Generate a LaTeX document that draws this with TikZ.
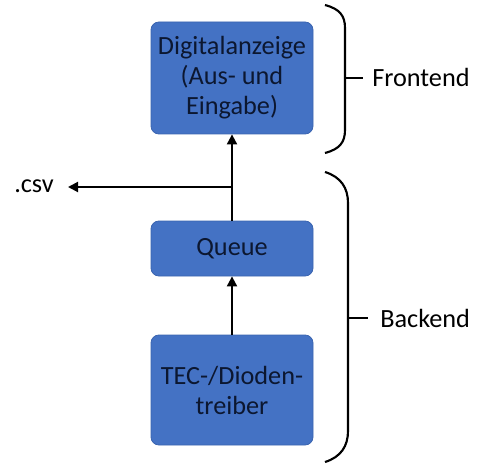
\documentclass[tikz,border=0pt]{standalone}
\usepackage{fontspec}
\setmainfont{Carlito}
\usetikzlibrary{arrows.meta}
\definecolor{boxfill}{HTML}{4472C4}
\definecolor{boxdraw}{HTML}{3A64B0}
\definecolor{boxtext}{HTML}{0C1730}
\begin{document}
\begin{tikzpicture}[x=0.75pt,y=-0.75pt,
  blockbox/.style={draw=boxdraw,line width=0.6pt,fill=boxfill,rounded corners=6pt,
    minimum width=121.5pt,align=center,text=boxtext,font=\fontsize{19.7pt}{22.5pt}\selectfont,inner sep=0pt},
  conn/.style={line width=1.5pt,-{Triangle[length=7.5pt,width=7.5pt]}},
  bracepath/.style={line width=1.6pt},
  lbl/.style={font=\fontsize{19.7pt}{22pt}\selectfont,inner sep=0pt}]
\useasboundingbox (0,0) rectangle (486,467);
\node[blockbox,minimum height=84pt] (disp) at (232,78) {Digitalanzeige\\(Aus- und\\Eingabe)};
\node[blockbox,minimum height=41.25pt] (queue) at (232,248.5) {Queue};
\node[blockbox,minimum height=82.5pt] (tec) at (232,390) {TEC-/Dioden-\\treiber};
\coordinate (split) at (232,187);
\node[lbl,anchor=west] (csv) at (14,186) {.csv};
\coordinate (csvend) at (68,187);
\draw[conn] (tec.north) -- (queue.south);
\draw[conn] (queue.north) -- (disp.south);
\draw[conn] (split) -- (csvend);
% braces
\coordinate (fa) at (325,5);
\coordinate (fb) at (325,153);
\draw[bracepath] (fa) .. controls (340,9) and (345,16) .. (345,28) -- (345,130) .. controls (345,142) and (340,149) .. (fb);
\coordinate (ft) at (345,78);
\node[lbl,anchor=west] (fe) at (372,77) {Frontend};
\draw[bracepath] (ft) -- (363,78);
\coordinate (ba) at (325,172);
\coordinate (bb) at (325,462);
\draw[bracepath] (ba) .. controls (341,177) and (348,188) .. (348,203) -- (348,431) .. controls (348,446) and (341,457) .. (bb);
\coordinate (bt) at (348,318);
\node[lbl,anchor=west] (be) at (380,318) {Backend};
\draw[bracepath] (bt) -- (368,318);
\end{tikzpicture}
\end{document}
